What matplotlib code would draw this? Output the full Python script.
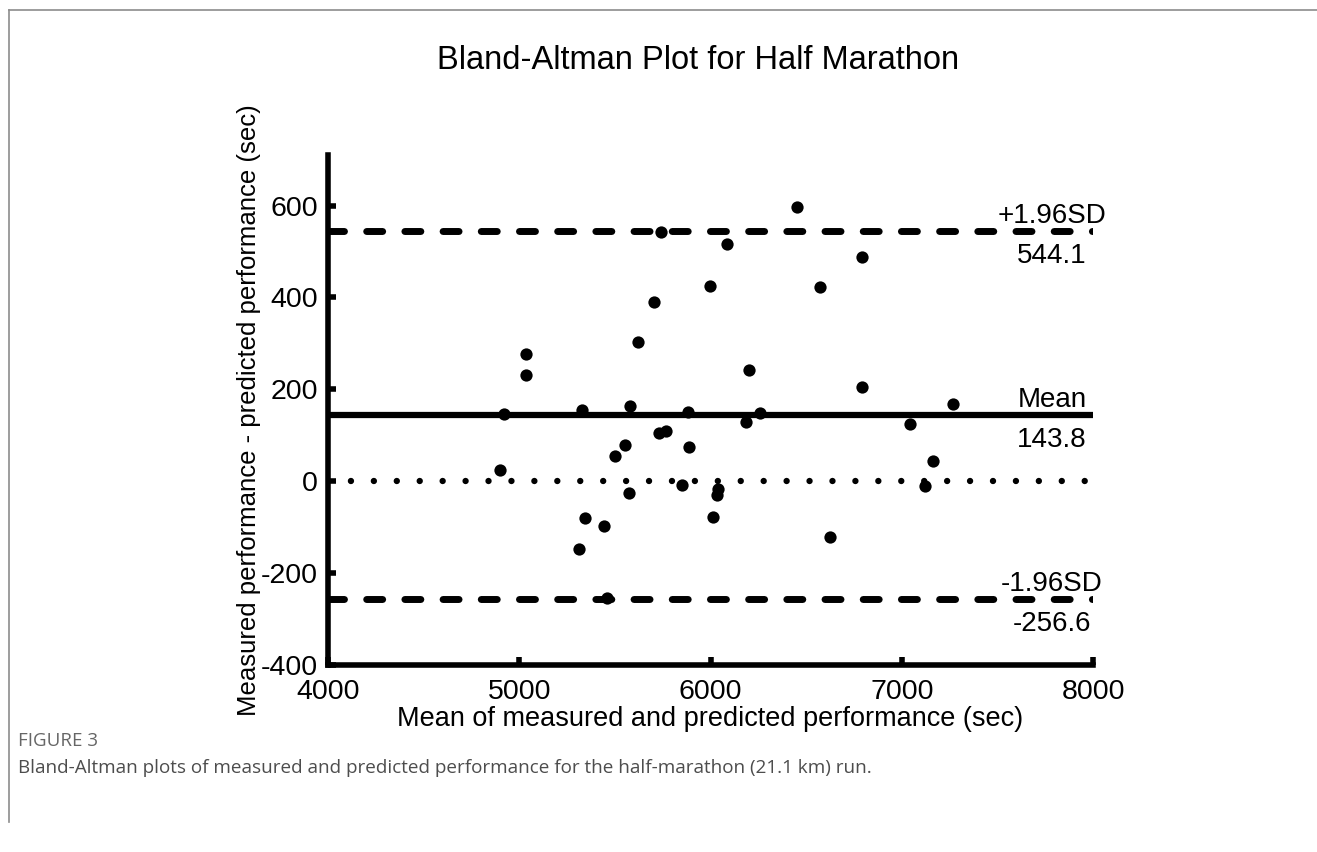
import matplotlib
matplotlib.use('Agg')
import matplotlib.pyplot as plt
from matplotlib.lines import Line2D

plt.rcParams['font.family'] = ['Liberation Sans', 'DejaVu Sans']
plt.rcParams['lines.scale_dashes'] = False
plt.rcParams['axes.unicode_minus'] = False

# Bland-Altman data
mean_perf = [5742, 6085, 5998, 5705, 5622, 5033, 5035, 6454, 6790, 6572,
             6203, 6790, 7265, 4919, 5326, 5579, 5884, 5733, 5768, 5553,
             5889, 5501, 4902, 5849, 5574, 6040, 6036, 6014, 5345, 5442,
             5314, 5459, 6187, 6261, 7045, 7164, 7119, 6624]
diff_perf = [543, 517, 424, 390, 302, 277, 231, 598, 488, 423,
             242, 206, 168, 146, 155, 164, 150, 106, 110, 78,
             74, 55, 24, -8, -25, -18, -31, -78, -79, -97,
             -147, -255, 128, 149, 125, 45, -10, -122]

bias = 143.8
upper_loa = 544.1
lower_loa = -256.6

x_range = (4000, 8000)
y_range = (-400, 710)
x_ticks = [4000, 5000, 6000, 7000, 8000]
y_ticks = [-400, -200, 0, 200, 400, 600]

fig = plt.figure(figsize=(13.17, 8.52), dpi=100)
ax = fig.add_axes([0.249, 0.2195, 0.581, 0.5985])

# Reference lines
ax.plot(x_range, [upper_loa, upper_loa], color='black', linewidth=5,
        dashes=(11.5, 16), dash_capstyle='round', zorder=2)
ax.plot(x_range, [lower_loa, lower_loa], color='black', linewidth=5,
        dashes=(11.5, 16), dash_capstyle='round', zorder=2)
ax.plot(x_range, [bias, bias], color='black', linewidth=4.5, zorder=2)
ax.plot([x_range[0], 7980], [0, 0], color='black', linewidth=4.6,
        dashes=(0.01, 16.5), dash_capstyle='round', zorder=2)

# Data points
ax.scatter(mean_perf, diff_perf, s=78, color='black', zorder=3, linewidths=0)

# Line labels
label_x = 7785
for val, name in [(upper_loa, '+1.96SD'), (bias, 'Mean'), (lower_loa, '-1.96SD')]:
    ax.annotate(name, (label_x, val), xytext=(0, 11), textcoords='offset points',
                ha='center', va='center', fontsize=20)
    ax.annotate(f'{val:.1f}', (label_x, val), xytext=(0, -18), textcoords='offset points',
                ha='center', va='center', fontsize=20)

ax.set_xlim(*x_range)
ax.set_ylim(*y_range)
ax.set_xticks(x_ticks)
ax.set_yticks(y_ticks)
ax.tick_params(direction='in', length=6, width=4, labelsize=20.5, pad=10)
ax.tick_params(axis='y', pad=7)

for side in ['top', 'right']:
    ax.spines[side].set_visible(False)
for side in ['left', 'bottom']:
    ax.spines[side].set_linewidth(4)

ax.set_xlabel('Mean of measured and predicted performance (sec)', fontsize=19.5, labelpad=1)
ax.set_ylabel('Measured performance - predicted performance (sec)', fontsize=18.5, labelpad=0)
fig.text(0.53, 0.929, 'Bland-Altman Plot for Half Marathon', ha='center', va='center',
         fontsize=23.5)

# Caption and page frame
fig.text(0.0137, 0.130, 'FIGURE 3', ha='left', va='center', fontsize=13.5,
         color='#666666', family=['Open Sans', 'DejaVu Sans'])
fig.text(0.0137, 0.099,
         'Bland-Altman plots of measured and predicted performance for the half-marathon (21.1 km) run.',
         ha='left', va='center', fontsize=13.6, color='#4d4d4d', family=['Open Sans', 'DejaVu Sans'])
fig.add_artist(Line2D([0.0068, 1.0], [0.988, 0.988], transform=fig.transFigure,
                      color='#8c8c8c', linewidth=1.2))
fig.add_artist(Line2D([0.0068, 0.0068], [0.035, 0.988], transform=fig.transFigure,
                      color='#8c8c8c', linewidth=1.2))

fig.savefig('out.png', dpi=100)
